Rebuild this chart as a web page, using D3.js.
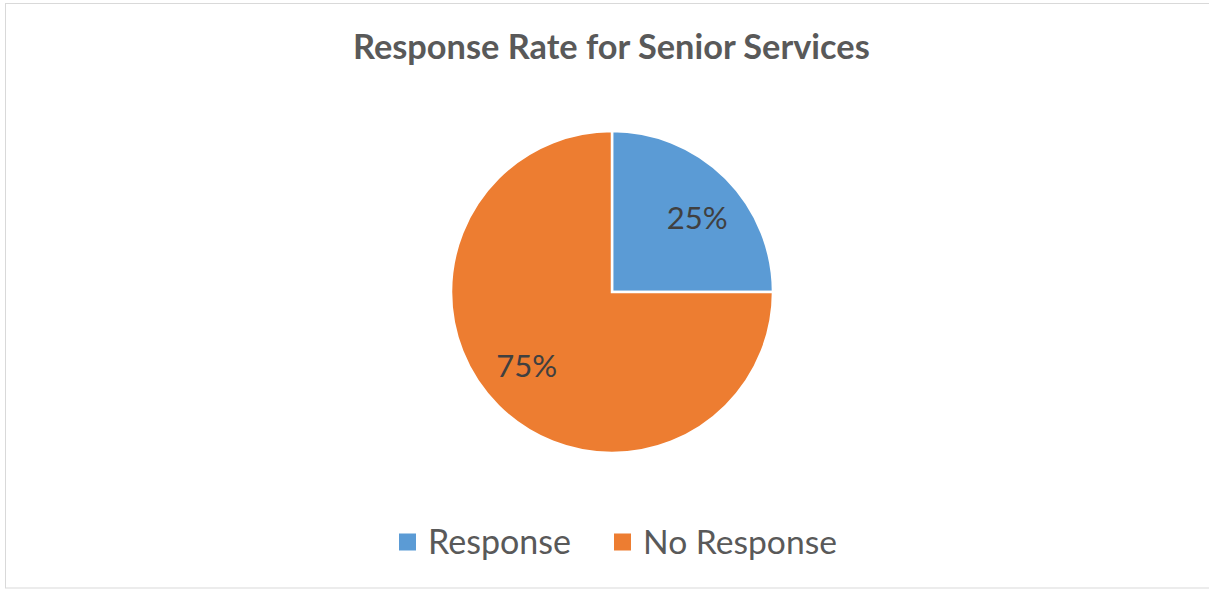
<!DOCTYPE html>
<html>
<head>
<meta charset="utf-8">
<script src="https://cdn.jsdelivr.net/npm/d3@7"></script>
<style>
  html, body { margin: 0; padding: 0; background: #fff; }
  svg { display: block; }
  text { font-family: Lato, "Open Sans", sans-serif; }
</style>
</head>
<body>
<svg id="chart" width="1209" height="590"></svg>
<script>
const title = "Response Rate for Senior Services";
const categories = ["Response", "No Response"];
const values = [25, 75];
const colors = ["#5B9BD5", "#ED7D31"];

const svg = d3.select("#chart");

svg.append("rect")
  .attr("x", 5.5).attr("y", 3.5)
  .attr("width", 1210).attr("height", 584.5)
  .attr("fill", "#fff").attr("stroke", "#d9d9d9").attr("stroke-width", 1);

function fitWidth(sel, target) {
  sel.style("font-size", "100px");
  const w = sel.node().getComputedTextLength();
  const size = 100 * target / w;
  sel.style("font-size", size + "px");
  return size;
}

// Title
const t = svg.append("text")
  .attr("x", 611.4).attr("y", 59)
  .attr("text-anchor", "middle")
  .attr("fill", "#595959")
  .attr("font-weight", "bold")
  .text(title);
fitWidth(t, 517);

// Pie
const cx = 612, cy = 292, R = 161;
const g = svg.append("g").attr("transform", `translate(${cx},${cy})`);
const pie = d3.pie().sort(null).value(d => d.value);
const data = categories.map((c, i) => ({ cat: c, value: values[i], color: colors[i] }));
const arcs = pie(data);
const arc = d3.arc().innerRadius(0).outerRadius(R);
g.selectAll("path.slice").data(arcs).enter().append("path")
  .attr("class", "slice")
  .attr("d", arc)
  .attr("fill", d => d.data.color)
  .attr("stroke", "#fff")
  .attr("stroke-width", 2.5)
  .attr("stroke-linejoin", "miter");

const total = d3.sum(values);
const labelArc = d3.arc().innerRadius(R * 0.70).outerRadius(R * 0.70);
const labels = g.selectAll("text.lbl").data(arcs).enter().append("text")
  .attr("class", "lbl")
  .attr("text-anchor", "middle")
  .attr("fill", "#404040")
  .text(d => Math.round(d.data.value / total * 100) + "%");
const lblSize = fitWidth(labels.filter((d, i) => i === 0), 61);
labels.style("font-size", lblSize + "px");
labels.attr("x", d => labelArc.centroid(d)[0] * 1.07)
  .attr("y", d => labelArc.centroid(d)[1] * 0.93 + lblSize * 0.35);

// Legend
const legendX = [399, 614];
const legendTextW = [143, 194];
const leg = svg.append("g");
categories.forEach((c, i) => {
  leg.append("rect")
    .attr("x", legendX[i]).attr("y", 533.5)
    .attr("width", 17).attr("height", 17)
    .attr("fill", colors[i]);
  const tx = leg.append("text")
    .attr("x", legendX[i] + 29).attr("y", 554)
    .attr("fill", "#595959")
    .text(c);
  fitWidth(tx, legendTextW[i]);
});
</script>
</body>
</html>
